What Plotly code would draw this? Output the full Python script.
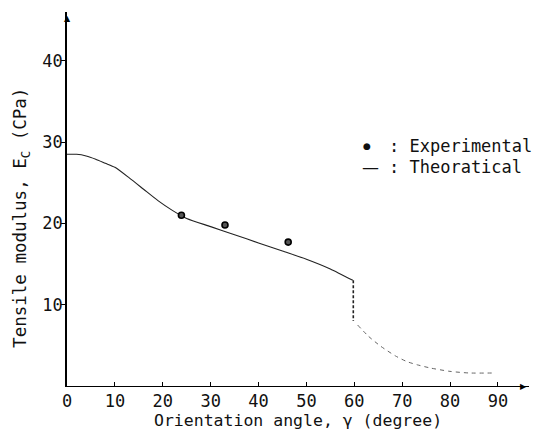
import plotly.graph_objects as go

# Data
exp_angle = [23.9, 33.0, 46.2]
exp_modulus = [21.0, 19.8, 17.7]

theo_angle_a = [0, 2, 4, 6, 8, 10, 13, 16, 19, 22, 25, 30, 35, 40, 45, 50, 55, 59.7]
theo_mod_a = [28.5, 28.5, 28.3, 27.9, 27.4, 26.9, 25.6, 24.2, 22.8, 21.6, 20.6, 19.6, 18.6, 17.6, 16.6, 15.6, 14.4, 13.0]

drop_angle = [59.8, 59.8]
drop_mod = [13.0, 8.0]

theo_angle_b = [60.7, 63, 65.5, 68.6, 71, 73.2, 76, 80, 84, 89]
theo_mod_b = [7.5, 6.1, 4.9, 3.7, 3.0, 2.6, 2.2, 1.8, 1.6, 1.6]

x_ticks = [0, 10, 20, 30, 40, 50, 60, 70, 80, 90]
y_ticks = [10, 20, 30, 40]

FONT = "DejaVu Sans Mono"
SYM = "DejaVu Sans"

fig = go.Figure()
fig.add_trace(go.Scatter(x=theo_angle_a, y=theo_mod_a, mode="lines",
                         line=dict(color="#222", width=1.1, shape="spline", smoothing=0.6), showlegend=False))
fig.add_trace(go.Scatter(x=drop_angle, y=drop_mod, mode="lines",
                         line=dict(color="#222", width=1.6, dash="3px,2px"), showlegend=False))
fig.add_trace(go.Scatter(x=theo_angle_b, y=theo_mod_b, mode="lines",
                         line=dict(color="#666", width=1, dash="4px,4px", shape="spline", smoothing=0.6),
                         showlegend=False))
fig.add_trace(go.Scatter(x=exp_angle, y=exp_modulus, mode="markers",
                         marker=dict(size=6, color="#555", line=dict(color="#000", width=1.6)),
                         showlegend=False))

# Axis arrowheads
fig.add_annotation(x=96.5, y=0, xref="x", yref="y", text="\u25b6", showarrow=False,
                   xanchor="right", yanchor="middle", font=dict(family=SYM, size=8, color="#000"))
fig.add_annotation(x=0, y=46, xref="x", yref="y", text="\u25b2", showarrow=False,
                   xanchor="center", yanchor="top", font=dict(family=SYM, size=8, color="#000"))

# Legend text
fig.add_annotation(x=0.649, y=0.642, xref="paper", yref="paper", xanchor="center", yanchor="middle",
                   text="\u25cf", showarrow=False, font=dict(family=SYM, size=9, color="#111"))
fig.add_annotation(x=0.693, y=0.642, xref="paper", yref="paper", xanchor="left", yanchor="middle",
                   text=": Experimental", showarrow=False, font=dict(family=FONT, size=17, color="#111"))
fig.add_annotation(x=0.656, y=0.586, xref="paper", yref="paper", xanchor="center", yanchor="middle",
                   text="\u2014", showarrow=False, font=dict(family=SYM, size=17, color="#111"))
fig.add_annotation(x=0.693, y=0.586, xref="paper", yref="paper", xanchor="left", yanchor="middle",
                   text=": Theoratical", showarrow=False, font=dict(family=FONT, size=17, color="#111"))

# Axis titles
fig.add_annotation(x=0.5, y=-0.091, xref="paper", yref="paper", xanchor="center", yanchor="middle",
                   text="Orientation angle, \u03b3 (degree)", showarrow=False,
                   font=dict(family=FONT, size=16.5, color="#111"))
fig.add_annotation(x=-0.097, y=0.45, xref="paper", yref="paper", xanchor="center", yanchor="middle",
                   text="Tensile modulus, E<sub>C</sub> (CPa)", showarrow=False, textangle=-90,
                   font=dict(family=FONT, size=17.5, color="#111"))

fig.update_layout(
    width=544, height=436,
    margin=dict(l=67, r=15, t=12, b=50),
    paper_bgcolor="white", plot_bgcolor="white",
    font=dict(family=FONT, size=17, color="#111"),
    xaxis=dict(range=[0, 96.5], tickvals=x_ticks, ticktext=[str(v) for v in x_ticks],
               showgrid=False, zeroline=False, showline=True, linecolor="#000", linewidth=1,
               ticks="inside", ticklen=4, tickcolor="#000", automargin=False),
    yaxis=dict(range=[0, 46], tickvals=y_ticks, ticktext=[str(v) for v in y_ticks],
               showgrid=False, zeroline=False, showline=True, linecolor="#000", linewidth=1.5,
               ticks="outside", ticklen=4, tickcolor="#000", automargin=False,
               ticklabelstandoff=-5),
)

fig.write_html("out.html", config={"displayModeBar": False},
               post_script="document.body.style.margin='0';")
